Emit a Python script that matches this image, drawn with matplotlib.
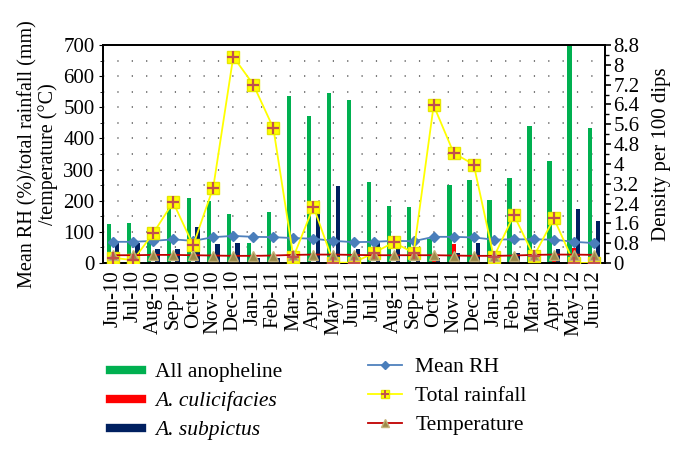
import numpy as np
import matplotlib.pyplot as plt
from matplotlib.lines import Line2D
from matplotlib.legend_handler import HandlerTuple

plt.rcParams['font.family'] = ['Liberation Serif', 'DejaVu Serif']

months = ['Jun-10', 'Jul-10', 'Aug-10', 'Sep-10', 'Oct-10', 'Nov-10', 'Dec-10',
          'Jan-11', 'Feb-11', 'Mar-11', 'Apr-11', 'May-11', 'Jun-11', 'Jul-11',
          'Aug-11', 'Sep-11', 'Oct-11', 'Nov-11', 'Dec-11', 'Jan-12', 'Feb-12',
          'Mar-12', 'Apr-12', 'May-12', 'Jun-12']

# densities per 100 dips (right axis)
all_anopheline = [1.56, 1.62, 1.36, 2.67, 2.61, 2.51, 1.99, 0.81, 2.04, 6.75,
                  5.95, 6.88, 6.59, 3.27, 2.30, 2.27, 0.96, 3.14, 3.35, 2.54,
                  3.45, 5.52, 4.12, 8.80, 5.45]
culicifacies = [0, 0, 0, 0, 0, 0, 0, 0, 0, 0, 0, 0, 0, 0, 0, 0,
                0.20, 0.78, 0.25, 0.12, 0.38, 0.12, 0.35, 0.62, 0.05]
subpictus = [0.88, 0.79, 0.58, 0.58, 1.46, 0.77, 0.81, 0.22, 0.21, 0.15,
             2.17, 3.12, 0.58, 0.89, 0.98, 0.38, 0.19, 0.40, 0.79, 0.41,
             0.41, 0.49, 0.57, 2.18, 1.70]

# weather (left axis)
mean_rh = [68, 68, 71, 76, 71, 83, 87, 84, 83, 80, 78, 71, 67, 68, 71, 70,
           84, 84, 82, 75, 76, 76, 75, 68, 64]
rainfall = [17, 9, 95, 195, 57, 242, 662, 573, 433, 19, 181, 1, 1, 32, 66,
            33, 506, 353, 316, 19, 154, 22, 143, 0, 0]
temperature = [25, 25, 26, 26, 25, 24, 23, 23, 24, 26, 27, 27, 26, 25, 25,
               25, 25, 24, 23, 23, 24, 26, 27, 27, 26]

x = np.arange(len(months))
fs = 15

fig = plt.figure(figsize=(6.84, 4.54), dpi=100)
ax = fig.add_axes([0.1506, 0.4207, 0.7339, 0.4803])
ax2 = ax.twinx()

# bars on the density axis
w = 0.215
ax.bar(x - w, all_anopheline, w, color='#00b050', zorder=2)
ax.bar(x, culicifacies, w, color='#ff0000', zorder=2)
ax.bar(x + w, subpictus, w, color='#002060', zorder=2)
ax.set_ylim(0, 8.8)
ax.set_xlim(-0.5, len(months) - 0.45)

# dotted grid every 50 units of the left scale
for g in np.arange(50, 700, 50):
    ax.axhline(g * 8.8 / 700, color='#555555', lw=1.1,
               linestyle=(0, (0.8, 8.6)), zorder=1)

ax.yaxis.tick_right()
ax.yaxis.set_label_position('right')
ax.set_yticks(np.arange(0, 8.81, 0.8))
ax.set_yticklabels(['0', '0.8', '1.6', '2.4', '3.2', '4', '4.8', '5.6',
                    '6.4', '7.2', '8', '8.8'])
ax.set_yticks(np.arange(0, 8.81, 0.4), minor=True)
ax.set_ylabel('Density per 100 dips', fontsize=fs, labelpad=9)
ax.tick_params(axis='y', which='major', labelsize=fs, length=4, width=1.2, pad=2)
ax.tick_params(axis='y', which='minor', length=3, width=1.0)
ax.set_xticks(x)
ax.set_xticklabels(months, rotation=90, fontsize=fs)
ax.tick_params(axis='x', length=0, pad=5)

# lines on the weather axis
ax2.plot(x, mean_rh, color='#4f81bd', lw=1.3, marker='D', ms=5,
         mfc='#4a7ebb', mec='#4a7ebb', zorder=3)
ax2.plot(x, rainfall, color='#ffff00', lw=1.3, marker='s', ms=8,
         mfc='#ffff00', mec='#e6e600', zorder=4)
ax2.plot(x, rainfall, ls='none', marker='+', ms=8, mew=1.6,
         color='#c0504d', zorder=5)
ax2.plot(x, temperature, color='#c00000', lw=1.3, marker='^', ms=7,
         mfc='#9c8a4a', mec='#c4b27a', zorder=4)
ax2.set_ylim(0, 700)
ax2.yaxis.tick_left()
ax2.yaxis.set_label_position('left')
ax2.set_yticks(np.arange(0, 701, 100))
ax2.set_yticks(np.arange(0, 701, 50), minor=True)
ax2.tick_params(axis='y', which='major', labelsize=fs, length=3, pad=3)
ax2.tick_params(axis='y', which='minor', length=2)
ax2.set_ylabel('Mean RH (%)/total rainfall (mm)\n/temperature (\u00b0C)',
               fontsize=14.5, linespacing=1.0, labelpad=4)

for a in (ax, ax2):
    for s in a.spines.values():
        s.set_linewidth(1.3)
        s.set_color('black')

# legends
bar_handles = [Line2D([], [], color=c, lw=6) for c in ('#00b050', '#ff0000', '#002060')]
bar_labels = ['All anopheline', 'A. culicifacies', 'A. subpictus']
leg1 = fig.legend(bar_handles, bar_labels, loc='upper left',
                  bbox_to_anchor=(110 / 684, 1 - 362 / 454), frameon=False,
                  fontsize=15.5, handlelength=1.5, handletextpad=0.6,
                  labelspacing=0.42, borderpad=0, borderaxespad=0)
for t in leg1.get_texts()[1:]:
    t.set_fontstyle('italic')

line_handles = [
    Line2D([], [], color='#4f81bd', lw=1.3, marker='D', ms=4, mfc='#4a7ebb', mec='#4a7ebb'),
    (Line2D([], [], color='#ffff00', lw=1.3, marker='s', ms=6, mfc='#ffff00', mec='#e6e600'),
     Line2D([], [], ls='none', marker='+', ms=6, mew=1.4, color='#c0504d')),
    Line2D([], [], color='#c00000', lw=1.3, marker='^', ms=6, mfc='#9c8a4a', mec='#c4b27a'),
]
fig.legend(line_handles, ['Mean RH', 'Total rainfall', 'Temperature'],
           loc='upper left', bbox_to_anchor=(368 / 684, 1 - 357 / 454),
           frameon=False, fontsize=15.5, handlelength=1.6, handletextpad=0.6,
           labelspacing=0.42, borderpad=0, borderaxespad=0,
           handler_map={tuple: HandlerTuple(ndivide=1, pad=0)})

fig.savefig('out.png', dpi=100)
